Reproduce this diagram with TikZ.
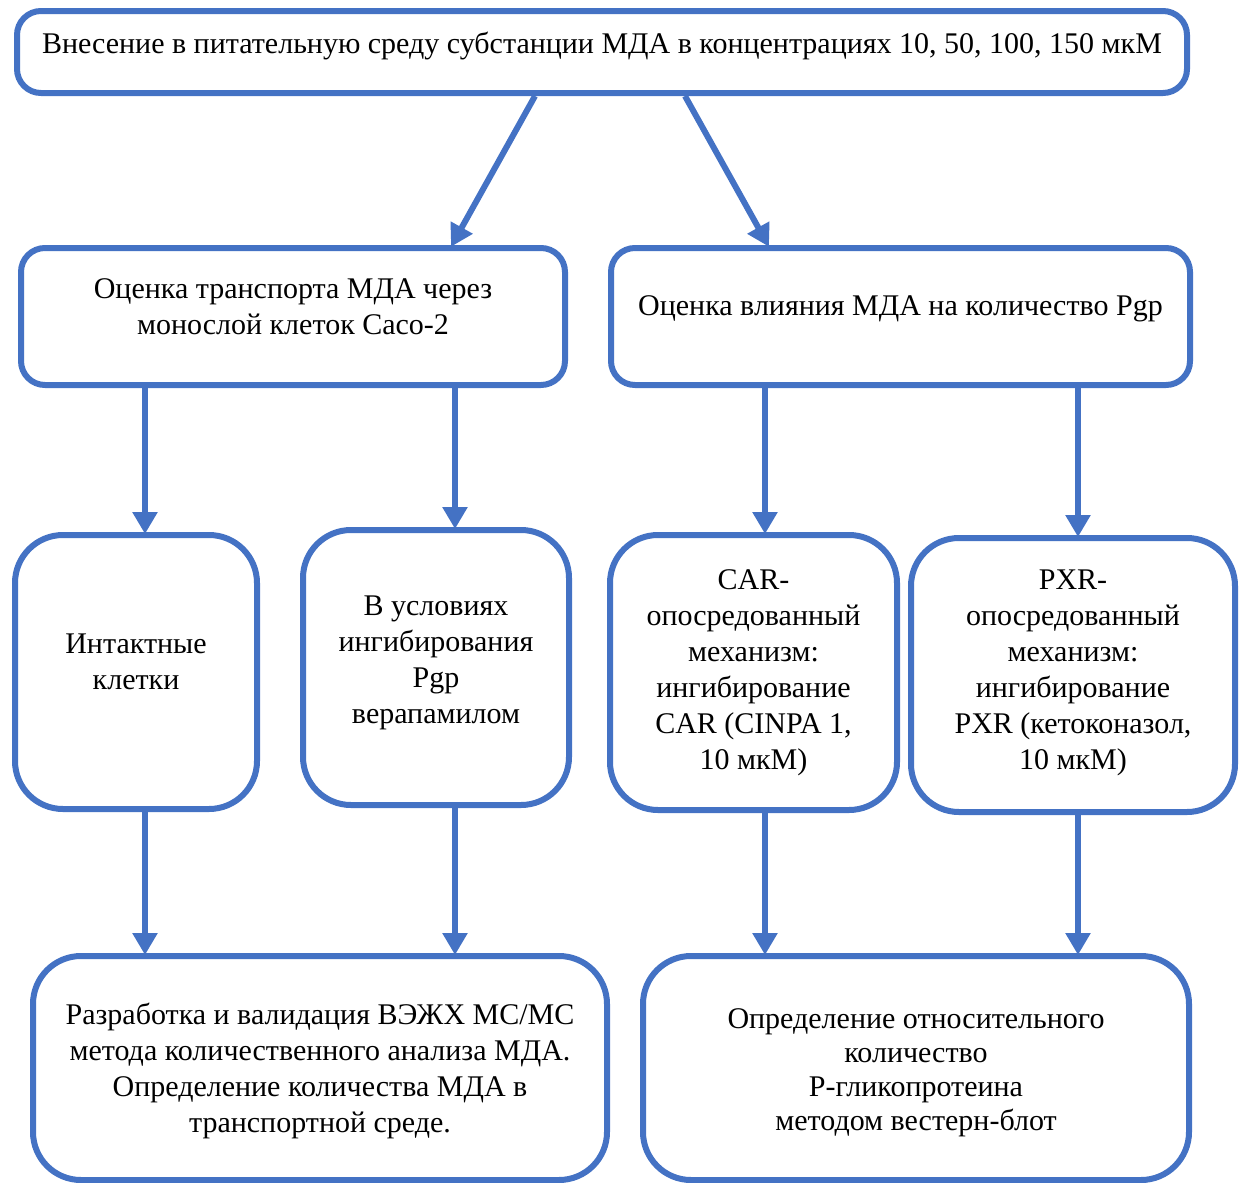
\documentclass[tikz,border=0pt]{standalone}
\usepackage{fontspec}
\setmainfont{Liberation Serif}
\usetikzlibrary{arrows.meta}
\definecolor{ofblue}{HTML}{4472C4}
\newcommand{\shiftup}[2]{\raisebox{#1}[\height][\depth]{#2}}
\begin{document}
\begin{tikzpicture}[x=1pt,y=-1pt,
  box/.style={draw=ofblue, line width=6pt, fill=white, align=center, inner sep=0pt,
    font=\rmfamily\fontsize{30}{36}\selectfont},
  wide/.style={box, rounded corners=24pt},
  tall/.style={box, rounded corners=48pt},
  arr/.style={draw=ofblue, line width=6pt, -{Triangle[width=24pt,length=22pt]}, shorten >=-2pt}]
\useasboundingbox (0,0) rectangle (1245,1183);
\node[wide, minimum width=1170pt, minimum height=82pt] (top) at (602,52)
  {\shiftup{6pt}{Внесение в питательную среду субстанции МДА в концентрациях 10, 50, 100, 150 мкМ}};
\node[wide, minimum width=544pt, minimum height=137pt] (A) at (293,316.5)
  {\shiftup{7.5pt}{\begin{tabular}{@{}c@{}}Оценка транспорта МДА через\\монослой клеток Caco-2\end{tabular}}};
\node[wide, minimum width=579pt, minimum height=137pt] (B) at (900.5,316.5)
  {\shiftup{8pt}{Оценка влияния МДА на количество Pgp}};
\node[tall, minimum width=242pt, minimum height=274pt] (C) at (136,672)
  {\shiftup{7.5pt}{\begin{tabular}{@{}c@{}}Интактные\\клетки\end{tabular}}};
\node[tall, minimum width=266pt, minimum height=275pt] (D) at (436,667.5)
  {\shiftup{5pt}{\begin{tabular}{@{}c@{}}В условиях\\ингибирования\\Pgp\\верапамилом\end{tabular}}};
\node[tall, minimum width=287pt, minimum height=275pt] (E) at (753.5,672.5)
  {\begin{tabular}{@{}c@{}}CAR-\\опосредованный\\механизм:\\ингибирование\\CAR (CINPA 1,\\10 мкМ)\end{tabular}};
\node[tall, minimum width=324pt, minimum height=274pt] (F) at (1073,675)
  {\shiftup{3pt}{\begin{tabular}{@{}c@{}}PXR-\\опосредованный\\механизм:\\ингибирование\\PXR (кетоконазол,\\10 мкМ)\end{tabular}}};
\node[tall, minimum width=574pt, minimum height=224pt] (G) at (320,1068)
  {\shiftup{-3pt}{\begin{tabular}{@{}c@{}}Разработка и валидация ВЭЖХ МС/МС\\метода количественного анализа МДА.\\Определение количества МДА в\\транспортной среде.\end{tabular}}};
\node[tall, minimum width=546pt, minimum height=224pt] (H) at (916,1068)
  {\shiftup{-5pt}{\fontsize{30}{34}\selectfont\begin{tabular}{@{}c@{}}Определение относительного\\количество\\P-гликопротеина\\методом вестерн-блот\end{tabular}}};
\coordinate (s1) at (535,0);
\coordinate (s2) at (685,0);
\coordinate (t1) at (452,0);
\coordinate (t2) at (768,0);
\coordinate (c1) at (145,0);
\coordinate (c2) at (455,0);
\coordinate (c3) at (765,0);
\coordinate (c4) at (1078,0);
\draw[arr] (top.south -| s1) -- (A.north -| t1);
\draw[arr] (top.south -| s2) -- (B.north -| t2);
\draw[arr] (A.south -| c1) -- (C.north -| c1);
\draw[arr] (A.south -| c2) -- (D.north -| c2);
\draw[arr] (B.south -| c3) -- (E.north -| c3);
\draw[arr] (B.south -| c4) -- (F.north -| c4);
\draw[arr] (C.south -| c1) -- (G.north -| c1);
\draw[arr] (D.south -| c2) -- (G.north -| c2);
\draw[arr] (E.south -| c3) -- (H.north -| c3);
\draw[arr] (F.south -| c4) -- (H.north -| c4);
\end{tikzpicture}
\end{document}
